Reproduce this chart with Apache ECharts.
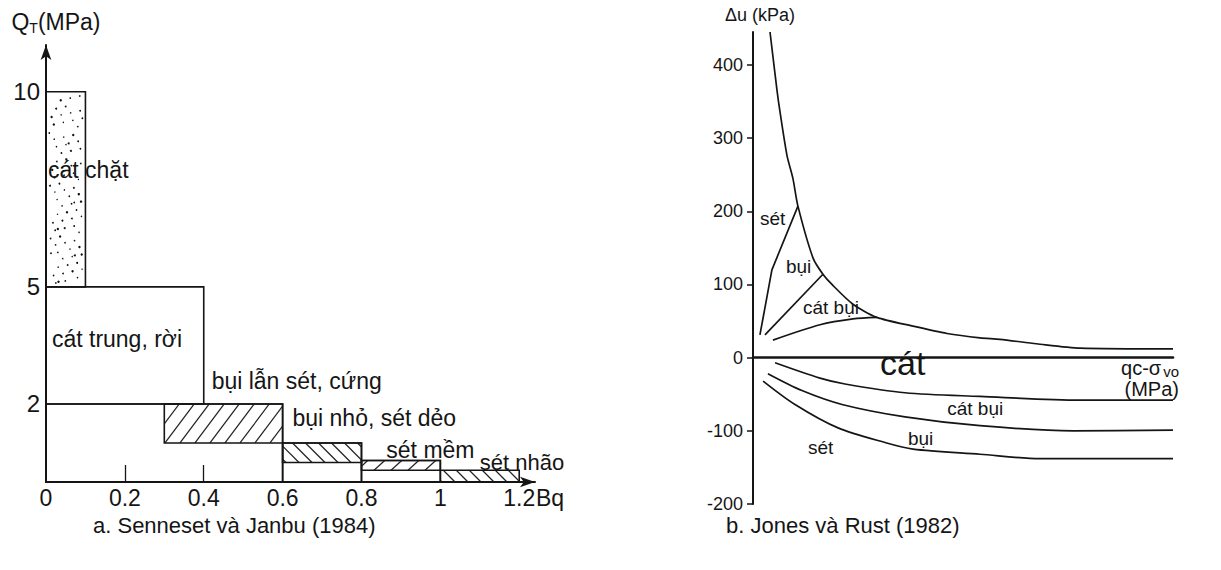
<!DOCTYPE html>
<html>
<head>
<meta charset="utf-8">
<title>Phân loại đất theo CPTU</title>
<script src="https://cdn.jsdelivr.net/npm/echarts@6/dist/echarts.min.js"></script>
<style>
  html, body { margin: 0; padding: 0; background: #ffffff; }
  #chart { width: 1221px; height: 570px; }
</style>
</head>
<body>
<div id="chart"></div>
<script>
// ---------------- data: (a) Senneset & Janbu (1984) ----------------
const bqTicks = [0, 0.2, 0.4, 0.6, 0.8, 1, 1.2];
const qtTicks = [2, 5, 10];
// soil boxes: [Bq from, Bq to, QT from, QT to] (MPa)
const zoneBoxes = [
  [0.0, 0.1, 5, 10],      // cát chặt
  [0.0, 0.4, 2, 5],       // cát trung, rời
  [0.0, 0.6, 0, 2],
  [0.3, 0.6, 1, 2],       // bụi lẫn sét, cứng
  [0.6, 0.8, 0, 1],
  [0.6, 0.8, 0.5, 1],     // bụi nhỏ, sét dẻo
  [0.8, 1.0, 0, 0.55],
  [0.8, 1.0, 0.3, 0.55],  // sét mềm
  [1.0, 1.2, 0, 0.3]      // sét nhão
];
const zoneLabels = ['cát chặt', 'cát trung, rời', 'bụi lẫn sét, cứng', 'bụi nhỏ, sét dẻo', 'sét mềm', 'sét nhão'];
const zoneLabelBq = [0.005, 0.015, 0.42, 0.625, 0.863, 1.10];
const zoneLabelQt = [8.0, 3.67, 2.6, 1.64, 0.82, 0.51];

// ---------------- data: (b) Jones & Rust (1982) ----------------
const duTicks = [-200, -100, 0, 100, 200, 300, 400];
// [qc - σvo (MPa), Δu (kPa)]
const envelopeCurve = [[0.81, 445], [1.14, 366], [1.29, 335], [1.62, 276], [1.90, 245], [2.14, 207],
  [2.86, 136], [3.33, 114], [3.76, 100], [4.76, 73], [5.90, 55], [7.62, 43], [9.24, 33],
  [10.81, 27], [11.76, 25], [13.5, 19], [15.57, 13], [20, 12]];
const setUpperLine = [[0.33, 31], [0.90, 120], [2.14, 207]];
const buiUpperLine = [[0.57, 31], [3.33, 114]];
const catBuiUpperLine = [[0.95, 24], [3.19, 45], [4.76, 53], [5.90, 55]];
const catBuiLowerCurve = [[1.05, -7], [3.19, -28], [4.38, -36], [7.24, -48], [10.81, -53], [15.57, -58], [20, -58]];
const buiLowerCurve = [[0.71, -22], [2.33, -45], [4.24, -64], [7.24, -81], [10.81, -93], [15.24, -100], [20, -99]];
const setLowerCurve = [[0.48, -32], [2.0, -64], [4.05, -96], [6.29, -116], [7.62, -125], [10.81, -132], [13.67, -138], [20, -138]];
const duLabels = ['sét', 'bụi', 'cát bụi', 'cát', 'cát bụi', 'bụi', 'sét'];
const duLabelX = [0.33, 1.57, 2.38, 6.05, 9.25, 7.38, 2.62];
const duLabelY = [190, 125, 68, -8, -69, -110, -123];

// ---------------- styling ----------------
const FONT = '"Liberation Sans", Arial, Helvetica, sans-serif';
const INK = '#151515';
// fill of each soil box (same order as zoneBoxes)
const boxFill = [
  { dots: true },
  null,
  null,
  { dir: 1, step: 15, run: 0.75 },
  null,
  { dir: -1, step: 13, run: 1.0 },
  null,
  { dir: 1, step: 17, run: 1.1 },
  { dir: -1, step: 13, run: 1.0 }
];
const duLabelSize = [19, 19, 19, 34, 19, 19, 19];

function hatchLines(x0, y0, x1, y1, f) {
  const H = y1 - y0, out = [];
  let c = Math.floor((x0 - H * f.run) / f.step) * f.step;
  for (; c <= x1 + H * f.run + f.step; c += f.step) {
    let tA, tB;
    if (f.dir > 0) { tA = (x0 - c) / f.run; tB = (x1 - c) / f.run; }
    else { tA = (c - x1) / f.run; tB = (c - x0) / f.run; }
    const ta = Math.max(0, tA), tb = Math.min(H, tB);
    if (tb - ta < 0.5) continue;
    out.push({
      type: 'line',
      shape: { x1: c + f.dir * ta * f.run, y1: y1 - ta, x2: c + f.dir * tb * f.run, y2: y1 - tb },
      style: { stroke: '#222', lineWidth: 1.2 }
    });
  }
  return out;
}

// sand stipple: an evenly spread low-discrepancy scatter of specks
function stipple(x0, y0, x1, y1) {
  const out = [], w = x1 - x0, h = y1 - y0;
  const sizes = [0.7, 1.0, 0.75, 1.7, 0.85, 1.2, 2.2, 0.7, 1.05, 1.5, 0.8, 0.9, 1.9];
  for (let k = 1; k <= 105; k++) {
    const fx = (k * 0.7548776662) % 1, fy = (k * 0.5698402910) % 1;
    out.push({
      type: 'circle',
      shape: { cx: x0 + 3 + fx * (w - 6), cy: y0 + 3 + fy * (h - 6), r: sizes[(k * k + 3 * k) % sizes.length] },
      style: { fill: '#111' }
    });
  }
  return out;
}

function renderBox(params, api) {
  const tl = api.coord([api.value(0), api.value(3)]);
  const br = api.coord([api.value(1), api.value(2)]);
  const x0 = tl[0], y0 = tl[1], x1 = br[0], y1 = br[1];
  const f = boxFill[params.dataIndex];
  let children = [];
  if (f && f.dots) children = children.concat(stipple(x0, y0, x1, y1));
  if (f && f.dir) children = children.concat(hatchLines(x0, y0, x1, y1, f));
  children.push({
    type: 'rect',
    shape: { x: x0, y: y0, width: x1 - x0, height: y1 - y0 },
    style: { fill: 'none', stroke: INK, lineWidth: 1.6 }
  });
  return { type: 'group', children: children };
}

function textRenderer(texts, sizes) {
  return function (params, api) {
    const p = api.coord([api.value(0), api.value(1)]);
    return {
      type: 'text', x: p[0], y: p[1],
      style: {
        text: texts[params.dataIndex], fill: INK,
        fontSize: sizes[params.dataIndex], fontFamily: FONT,
        align: 'left', verticalAlign: 'middle'
      }
    };
  };
}

function curve(data, smooth) {
  return {
    type: 'line', xAxisIndex: 1, yAxisIndex: 1, data: data,
    showSymbol: false, smooth: smooth, silent: true,
    lineStyle: { color: INK, width: 1.7 }
  };
}

const zoneLabelData = zoneLabelBq.map((b, i) => [b, zoneLabelQt[i]]);
const duLabelData = duLabelX.map((x, i) => [x, duLabelY[i]]);

const chart = echarts.init(document.getElementById('chart'), null, { renderer: 'svg', width: 1221, height: 570 });

chart.setOption({
  animation: false,
  backgroundColor: '#ffffff',
  textStyle: { fontFamily: FONT, color: INK },
  title: [
    { text: 'a. Senneset và Janbu (1984)', left: 88, top: 509,
      textStyle: { fontSize: 22, fontWeight: 'normal', color: INK, fontFamily: FONT } },
    { text: 'b. Jones và Rust (1982)', left: 721, top: 509,
      textStyle: { fontSize: 22, fontWeight: 'normal', color: INK, fontFamily: FONT } }
  ],
  grid: [
    { left: 46, top: 45, width: 489, height: 437 },
    { left: 753, top: 32, width: 420, height: 472 }
  ],
  xAxis: [
    {
      type: 'value', gridIndex: 0, min: 0, max: 1.24, interval: 0.2,
      name: 'Bq', nameLocation: 'end', nameGap: 1, nameMoveOverlap: false,
      nameTextStyle: { fontSize: 23, color: INK, align: 'left', verticalAlign: 'top', padding: [4, 0, 0, 0], fontFamily: FONT },
      axisLine: { onZero: false, symbol: ['none', 'arrow'], symbolSize: [8, 15], lineStyle: { color: INK, width: 2 } },
      axisTick: { show: true, inside: true, length: 17, customValues: [0.2, 0.4], lineStyle: { color: INK, width: 1.3 } },
      axisLabel: { customValues: bqTicks, fontSize: 23, color: INK, margin: 4, fontFamily: FONT },
      splitLine: { show: false }
    },
    {
      type: 'value', gridIndex: 1, min: 0, max: 20,
      name: 'qc-σ{s|vo}\n(MPa)', nameLocation: 'end', nameGap: 6, nameMoveOverlap: false,
      nameTextStyle: {
        fontSize: 20, color: INK, align: 'right', verticalAlign: 'top', lineHeight: 21, fontFamily: FONT,
        rich: { s: { fontSize: 15, verticalAlign: 'bottom', padding: [10, 0, 0, 2], fontFamily: FONT, color: INK } }
      },
      axisLine: { onZero: true, lineStyle: { color: INK, width: 2.6 } },
      axisTick: { show: false },
      axisLabel: { show: false },
      splitLine: { show: false }
    }
  ],
  yAxis: [
    {
      type: 'value', gridIndex: 0, min: 0, max: 11.2, interval: 1,
      name: 'Q{s|T}(MPa)', nameLocation: 'end', nameGap: 10,
      nameTextStyle: {
        fontSize: 23, color: INK, align: 'center', padding: [0, 0, 0, 20], fontFamily: FONT,
        rich: { s: { fontSize: 14, padding: [12, 0, 0, 0], fontFamily: FONT, color: INK } }
      },
      axisLine: { onZero: false, symbol: ['none', 'arrow'], symbolSize: [8, 15], lineStyle: { color: INK, width: 2 } },
      axisTick: { show: false },
      axisLabel: { customValues: qtTicks, fontSize: 24, color: INK, margin: 6, fontFamily: FONT },
      splitLine: { show: false }
    },
    {
      type: 'value', gridIndex: 1, min: -200, max: 445, interval: 100,
      name: 'Δu (kPa)', nameLocation: 'end', nameGap: 8,
      nameTextStyle: { fontSize: 18, color: INK, align: 'center', padding: [0, 0, 0, 14], fontFamily: FONT },
      axisLine: { onZero: false, lineStyle: { color: INK, width: 2 } },
      axisTick: { show: true, length: 6, customValues: duTicks, lineStyle: { color: INK, width: 1.5 } },
      axisLabel: { customValues: duTicks, fontSize: 18, color: INK, margin: 10, fontFamily: FONT },
      splitLine: { show: false }
    }
  ],
  series: [
    {
      type: 'custom', xAxisIndex: 0, yAxisIndex: 0, silent: true, clip: false,
      data: zoneBoxes, encode: { x: [0, 1], y: [2, 3] }, renderItem: renderBox
    },
    {
      type: 'custom', xAxisIndex: 0, yAxisIndex: 0, silent: true, clip: false,
      data: zoneLabelData, encode: { x: 0, y: 1 },
      renderItem: textRenderer(zoneLabels, [23, 23, 23, 23, 23, 22])
    },
    curve(envelopeCurve, 0.25),
    curve(setUpperLine, false),
    curve(buiUpperLine, false),
    curve(catBuiUpperLine, 0.3),
    curve(catBuiLowerCurve, 0.3),
    curve(buiLowerCurve, 0.3),
    curve(setLowerCurve, 0.3),
    {
      type: 'custom', xAxisIndex: 1, yAxisIndex: 1, silent: true, clip: false,
      data: duLabelData, encode: { x: 0, y: 1 },
      renderItem: textRenderer(duLabels, duLabelSize)
    }
  ]
});
</script>
</body>
</html>
